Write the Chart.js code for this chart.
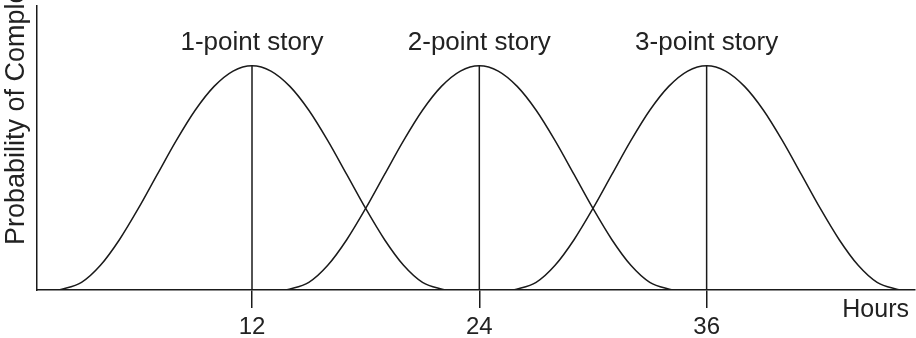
<!DOCTYPE html>
<html>
<head>
<meta charset="utf-8">
<script src="https://cdn.jsdelivr.net/npm/chart.js@4"></script>
<style>
  html, body { margin: 0; padding: 0; background: #fff; }
  #wrap { width: 916px; height: 338px; }
</style>
</head>
<body>
<div id="wrap"><canvas id="chart" width="916" height="338"></canvas></div>
<script>
// values (probability, 0..100 scale)
const storyLabels = ["1-point story", "2-point story", "3-point story"];
const storyPeaks = [12, 24, 36];
const peakHeight = 79;

const hours1 = [1.8, 3, 4, 5, 6, 7, 8, 9, 10, 11, 12, 13, 14, 15, 16, 17, 18, 19, 20, 21, 22.2];
const prob1 = [0, 2.7, 8.7, 17.7, 28.7, 40.7, 52.6, 63.3, 71.7, 77.1, 79, 77.1, 71.7, 63.3, 52.6, 40.7, 28.7, 17.7, 8.7, 2.7, 0];

const hours2 = [13.8, 15, 16, 17, 18, 19, 20, 21, 22, 23, 24, 25, 26, 27, 28, 29, 30, 31, 32, 33, 34.2];
const prob2 = [0, 2.7, 8.7, 17.7, 28.7, 40.7, 52.6, 63.3, 71.7, 77.1, 79, 77.1, 71.7, 63.3, 52.6, 40.7, 28.7, 17.7, 8.7, 2.7, 0];

const hours3 = [25.8, 27, 28, 29, 30, 31, 32, 33, 34, 35, 36, 37, 38, 39, 40, 41, 42, 43, 44, 45, 46.2];
const prob3 = [0, 2.7, 8.7, 17.7, 28.7, 40.7, 52.6, 63.3, 71.7, 77.1, 79, 77.1, 71.7, 63.3, 52.6, 40.7, 28.7, 17.7, 8.7, 2.7, 0];

const tickHours = [12, 24, 36];

const ink = "#1a1a1a";
const font = "'Liberation Sans', Arial, Helvetica, sans-serif";

const toPoints = (xs, ys) => xs.map((x, i) => ({ x: x, y: ys[i] }));

const curve = (xs, ys) => ({
  data: toPoints(xs, ys),
  borderColor: ink,
  borderWidth: 1.5,
  pointRadius: 0,
  fill: false,
  cubicInterpolationMode: "monotone",
});

const stem = (h) => ({
  data: [{ x: h, y: 0 }, { x: h, y: peakHeight }],
  borderColor: ink,
  borderWidth: 1.5,
  pointRadius: 0,
  fill: false,
});

// story names above the peaks, the cut-off y title and "Hours"
const textPlugin = {
  id: "texts",
  afterDraw(chart) {
    const ctx = chart.ctx;
    const xs = chart.scales.x;
    const ys = chart.scales.y;
    const area = chart.chartArea;
    ctx.save();
    ctx.fillStyle = "#222";
    ctx.font = "26px " + font;
    ctx.textAlign = "center";
    ctx.textBaseline = "middle";
    storyPeaks.forEach((h, i) => {
      ctx.fillText(storyLabels[i], xs.getPixelForValue(h), ys.getPixelForValue(peakHeight) - 23);
    });

    ctx.font = "25px " + font;
    ctx.textAlign = "right";
    ctx.fillText("Hours", area.right - 6, area.bottom + 20);

    ctx.translate(17, area.bottom - 45);
    ctx.rotate(-Math.PI / 2);
    ctx.textAlign = "left";
    ctx.font = "27px " + font;
    ctx.fillText("Probability of Completion", 0, 0);
    ctx.restore();
  },
};

new Chart(document.getElementById("chart").getContext("2d"), {
  type: "line",
  data: {
    datasets: [
      curve(hours1, prob1),
      curve(hours2, prob2),
      curve(hours3, prob3),
      ...storyPeaks.map(stem),
    ],
  },
  options: {
    responsive: false,
    animation: false,
    layout: { padding: { top: 6, right: 1, left: 0, bottom: 0 } },
    plugins: {
      legend: { display: false },
      tooltip: { enabled: false },
    },
    scales: {
      x: {
        type: "linear",
        min: 0.65,
        max: 47,
        afterBuildTicks: (s) => { s.ticks = tickHours.map((v) => ({ value: v })); },
        afterFit: (s) => { s.height = 48; },
        grid: {
          display: true,
          drawOnChartArea: false,
          drawTicks: true,
          tickLength: 18,
          color: ink,
          lineWidth: 1.5,
        },
        border: { display: true, color: ink, width: 1.5 },
        ticks: {
          color: "#222",
          font: { family: font, size: 24 },
          padding: 5,
          maxRotation: 0,
          autoSkip: false,
        },
      },
      y: {
        min: 0,
        max: 100,
        afterFit: (s) => { s.width = 37; },
        grid: { display: false },
        border: { display: true, color: ink, width: 1.5 },
        ticks: { display: false },
      },
    },
  },
  plugins: [textPlugin],
});
</script>
</body>
</html>
